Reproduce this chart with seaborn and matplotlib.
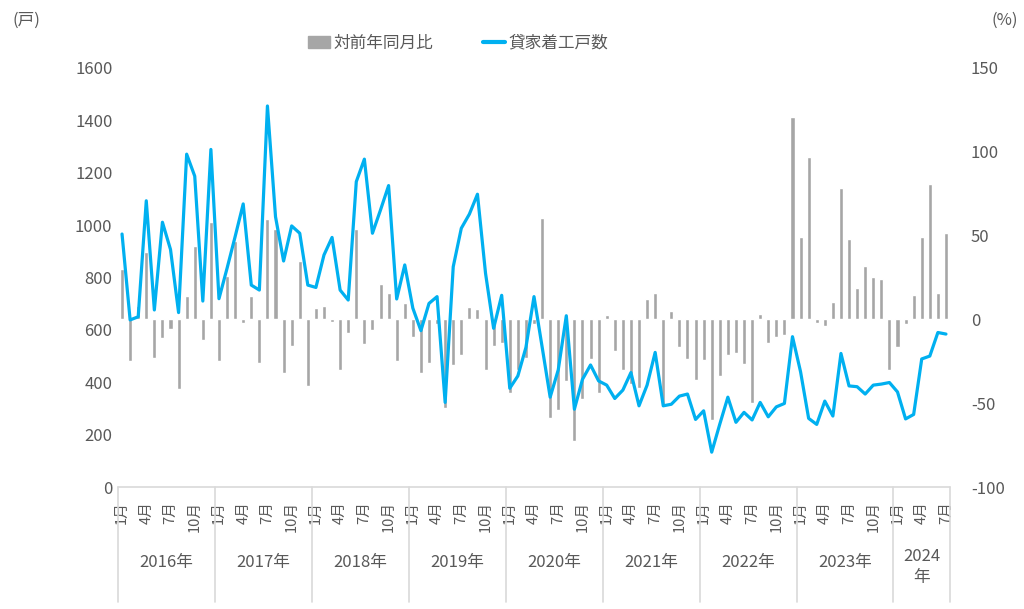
import numpy as np
import pandas as pd
import matplotlib
matplotlib.use("Agg")
import matplotlib.pyplot as plt
from matplotlib.patches import Patch
from matplotlib.lines import Line2D
import seaborn as sns

# ---- data ----
years = [2016, 2017, 2018, 2019, 2020, 2021, 2022, 2023, 2024]
months_per_year = [12, 12, 12, 12, 12, 12, 12, 12, 7]

starts = [  # 貸家着工戸数 (戸)
    966, 638, 650, 1093, 676, 1011, 907, 666, 1271, 1187, 710, 1289,
    719, 835, 956, 1081, 771, 752, 1455, 1032, 863, 997, 969, 771,
    762, 886, 953, 752, 714, 1166, 1252, 969, 1058, 1151, 718, 848,
    683, 597, 701, 727, 323, 841, 988, 1042, 1118, 816, 606, 732,
    377, 424, 533, 727, 536, 343, 447, 654, 297, 411, 466, 405,
    389, 338, 370, 437, 310, 389, 514, 310, 316, 347, 355, 258,
    291, 133, 240, 343, 247, 285, 256, 323, 268, 306, 319, 574,
    440, 262, 239, 328, 271, 510, 386, 383, 355, 389, 393, 399,
    363, 260, 277, 489, 500, 590, 584,
]

yoy = [  # 対前年同月比 (%)
    29.8, -24.9, 8, 40, -23, -11.3, -6, -41.4, 14, 44, -12.3, 58,
    -24.9, 26, 47, -2, 14, -25.8, 60, 54, -31.8, -15.9, 35, -40,
    6.6, 8, -1.6, -30, -8, 54, -14.5, -6.4, 21, 15.5, -24.9, 9.5,
    -10.5, -31.8, -26, -3, -53, -27, -21, 7.6, 6, -30, -16, -14,
    -44, -30, -23, -3, 60.6, -58.6, -54, -36.8, -72.8, -47.3, -23.5, -44,
    2.6, -18.9, -30, -38.8, -40.8, 12.3, 15.5, -52, 5, -16.3, -23.9, -36.2,
    -24, -60, -33.8, -21.5, -20.3, -26.8, -49.7, 3.4, -14.3, -10.3, -9.5, 120.7,
    48.9, 96.8, -2, -4, 10.3, 78.5, 47.7, 18.5, 31.8, 25.4, 23.9, -30.2,
    -16.3, -3, 14.7, 49.3, 80.9, 15.5, 51.7,
]

year_labels = ["2016年", "2017年", "2018年", "2019年", "2020年",
               "2021年", "2022年", "2023年", "2024\n年"]
series_bar = "対前年同月比"
series_line = "貸家着工戸数"

# ---- build frame ----
month_num = [m for n in months_per_year for m in range(1, n + 1)]
idx = list(range(len(starts)))
df = pd.DataFrame({"idx": idx, "month": month_num, "starts": starts, "yoy": yoy})

# ---- style ----
sns.set_style("white")
plt.rcParams["font.family"] = ["Noto Sans CJK JP", "DejaVu Sans"]
TXT = "#595959"
GRAY = "#a6a6a6"
BLUE = "#00b0f0"
SEP = "#d9d9d9"

fig = plt.figure(figsize=(10.24, 6.09), dpi=100)
ax = fig.add_axes([118 / 1024, 122 / 609, 832 / 1024, 419 / 609])

# bars on primary (shown on right), line on twin (shown on left)
sns.barplot(data=df, x="idx", y="yoy", ax=ax, color=GRAY, saturation=1,
            width=0.5, errorbar=None, order=idx)
ax2 = ax.twinx()
sns.lineplot(data=df, x="idx", y="starts", ax=ax2, color=BLUE, linewidth=2.3)

ax.set_ylim(-100, 150)
ax.set_xlim(-0.5, len(idx) - 0.5)
ax.set_yticks([-100, -50, 0, 50, 100, 150])
ax.set_yticklabels(["-100", "-50", "0", "50", "100", "150"])
ax.yaxis.tick_right()
ax.yaxis.set_label_position("right")

ax2.set_ylim(0, 1600)
ax2.set_yticks(range(0, 1601, 200))
ax2.yaxis.tick_left()
ax2.yaxis.set_label_position("left")

for a in (ax, ax2):
    a.set_xlabel("")
    a.set_ylabel("")
    for s in a.spines.values():
        s.set_visible(False)
    a.tick_params(axis="y", length=0, labelsize=12, labelcolor=TXT)
ax.tick_params(axis="y", pad=15)
ax2.tick_params(axis="y", pad=4)

# x ticks: months 1,4,7,10
tick_pos = [i for i, m in zip(idx, month_num) if m in (1, 4, 7, 10)]
tick_lab = [f"{month_num[i]}月" for i in tick_pos]
ax.set_xticks(tick_pos)
ax.set_xticklabels(tick_lab, rotation=90, fontsize=10.5, color=TXT)
ax.tick_params(axis="x", length=0, pad=10, labelbottom=True)
ax2.tick_params(axis="x", length=0, labelbottom=False)

# bottom axis line
ax.axhline(-100, color=SEP, linewidth=1.2, clip_on=False, zorder=0)

# year separators and labels
trans = ax.get_xaxis_transform()
bounds = np.cumsum([0] + months_per_year) - 0.5
for b in bounds:
    ax.plot([b, b], [0, -0.275], color=SEP, linewidth=1.2,
            transform=trans, clip_on=False)
for k, lab in enumerate(year_labels):
    cx = (bounds[k] + bounds[k + 1]) / 2
    ax.text(cx, -0.18 if "\n" not in lab else -0.19, lab, transform=trans,
            ha="center", va="center", fontsize=12, color=TXT,
            linespacing=1.3)

# units
fig.text(12 / 1024, 1 - 20 / 609, "(戸)", fontsize=12, color=TXT,
         ha="left", va="center")
fig.text(1018 / 1024, 1 - 20 / 609, "(%)", fontsize=12, color=TXT,
         ha="right", va="center")

# legend
handles = [Patch(facecolor=GRAY, edgecolor=GRAY),
           Line2D([0], [0], color=BLUE, linewidth=3)]
fig.legend(handles, [series_bar, series_line], loc="center", ncol=2,
           bbox_to_anchor=(458 / 1024, 1 - 43 / 609), frameon=False,
           fontsize=12, labelcolor=TXT, handlelength=1.3, handletextpad=0.2,
           columnspacing=3.0)

fig.savefig("out.png", dpi=100)
